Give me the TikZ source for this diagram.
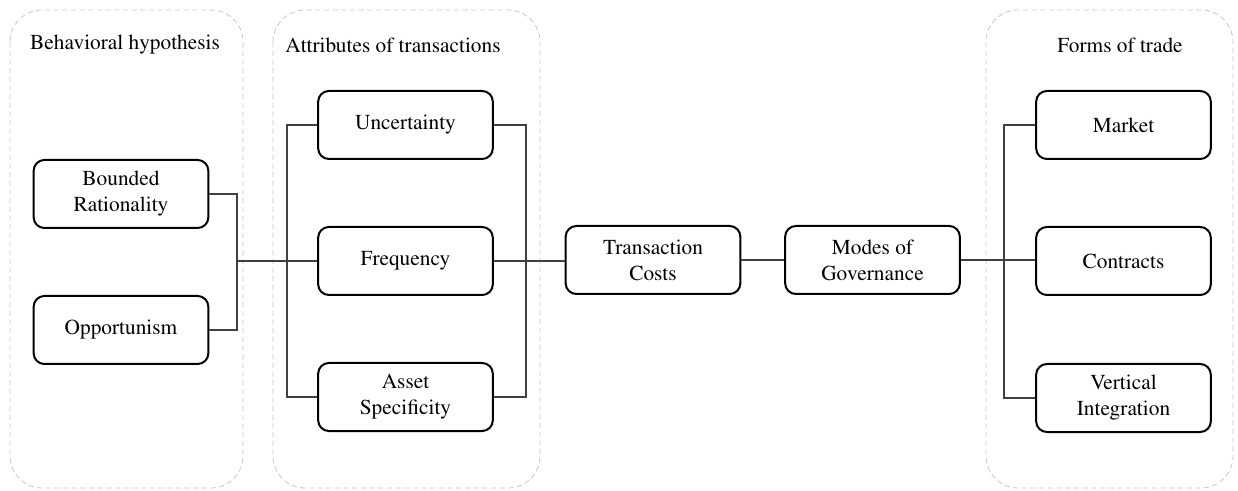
\documentclass[tikz,border=0pt]{standalone}
\usepackage[T1]{fontenc}
\usepackage{mathptmx}
\usepackage{tikz}
\usetikzlibrary{positioning}
\tikzset{>=stealth}
\tikzset{
  block/.style={draw=black, line width=1.5pt, rounded corners=8pt, align=center,
    minimum width=131pt, minimum height=51pt, inner sep=2pt,
    font=\rmfamily\fontsize{16}{19.5}\selectfont},
  group/.style={draw=gray!45, dashed, dash pattern=on 4pt off 2.5pt, line width=0.6pt, rounded corners=24pt},
  grouptitle/.style={font=\rmfamily\fontsize{16}{19.5}\selectfont},
  link/.style={draw=black!75, line width=0.8pt}
}

\begin{document}
\begin{tikzpicture}[x=0.75pt, y=-0.75pt]
	\useasboundingbox (0,0) rectangle (1238,491);
	% dashed groups
	\draw [group] (10,10) rectangle (243,488);
	\draw [group] (273,10) rectangle (540,488);
	\draw [group] (986,10) rectangle (1233,488);
	\node [grouptitle] (t1) at (125,45) {Behavioral hypothesis};
	\node [grouptitle] (t2) at (393,45) {Attributes of transactions};
	\node [grouptitle] (t3) at (1120,45) {Forms of trade};
	% boxes
	\node [block] (br) at (121,194) {Bounded\\Rationality};
	\node [block] (op) at (121,330) {Opportunism};
	\node [block] (un) at (405.5,125) {Uncertainty};
	\node [block] (fr) at (405.5,261) {Frequency};
	\node [block] (as) at (405.5,397) {Asset\\Specificity};
	\node [block] (tc) at (653,260) {Transaction\\Costs};
	\node [block] (mg) at (872.5,260) {Modes of\\Governance};
	\node [block] (ma) at (1123.5,125) {Market};
	\node [block] (co) at (1123.5,261) {Contracts};
	\node [block] (vi) at (1123.5,398) {Vertical\\Integration};
	% junctions
	\coordinate (j1) at (237,261);
	\coordinate (j2) at (287,261);
	\coordinate (j3) at (526,261);
	\coordinate (j4) at (1004,261);
	% links
	\draw [link] (br.east) -| (j1) |- (op.east);
	\draw [link] (j1) -- (fr.west);
	\draw [link] (un.west) -| (j2) |- (as.west);
	\draw [link] (un.east) -| (j3) |- (as.east);
	\draw [link] (fr.east) -- (tc.west |- fr.east);
	\draw [link] (tc) -- (mg);
	\draw [link] (mg.east) -- (co.west |- mg.east);
	\draw [link] (ma.west) -| (j4) |- (vi.west);
\end{tikzpicture}
\end{document}
